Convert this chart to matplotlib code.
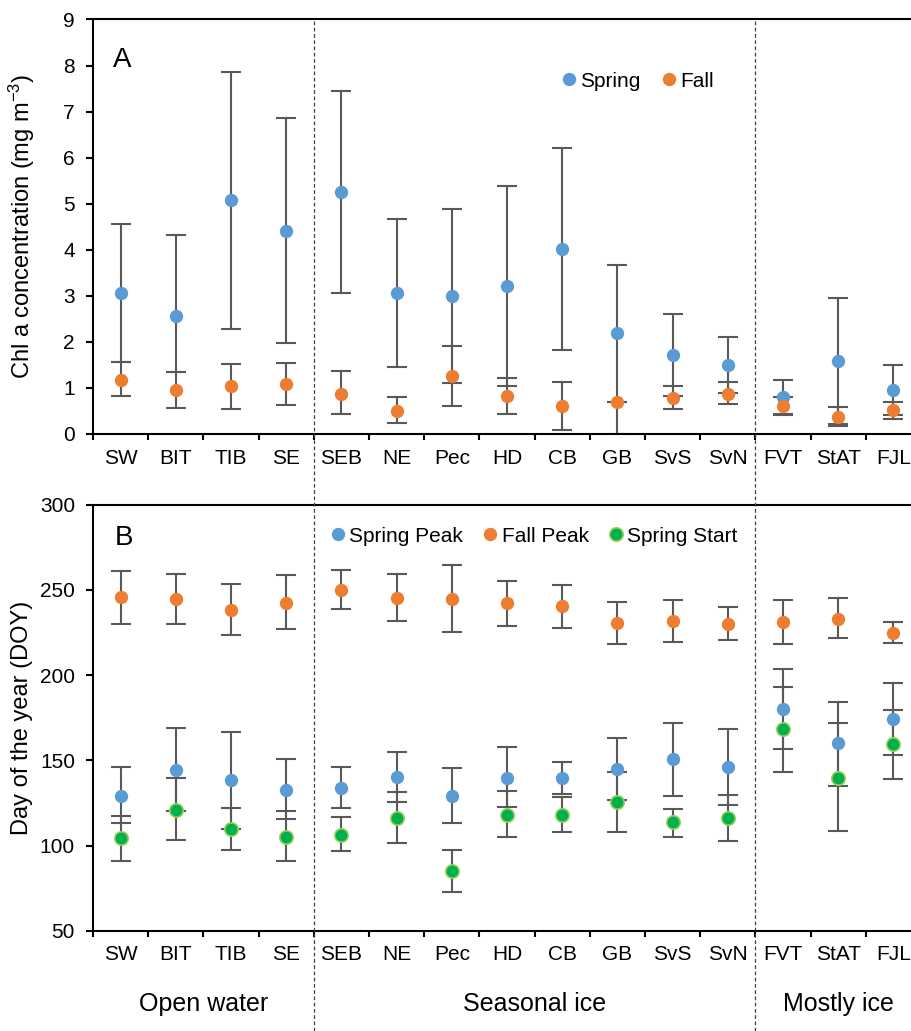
import matplotlib
matplotlib.use("Agg")
import matplotlib.pyplot as plt
import matplotlib.transforms as mtransforms
from matplotlib.lines import Line2D
import numpy as np

plt.rcParams['font.family'] = ['Liberation Sans', 'DejaVu Sans']
plt.rcParams['mathtext.default'] = 'regular'

sites = ["SW", "BIT", "TIB", "SE", "SEB", "NE", "Pec", "HD", "CB", "GB",
         "SvS", "SvN", "FVT", "StAT", "FJL"]
groups = ["Open water", "Seasonal ice", "Mostly ice"]
group_sizes = [4, 8, 3]

# Chl a concentration (mg m-3): mean with lower / upper error limits
chl_spring = [3.07, 2.57, 5.07, 4.41, 5.25, 3.06, 3.00, 3.22, 4.02, 2.20, 1.72, 1.49, 0.81, 1.59, 0.95]
chl_spring_lo = [1.56, 1.34, 2.29, 1.98, 3.07, 1.45, 1.11, 1.05, 1.82, 0.00, 0.83, 0.88, 0.44, 0.21, 0.41]
chl_spring_hi = [4.57, 4.32, 7.85, 6.87, 7.44, 4.67, 4.89, 5.38, 6.21, 3.68, 2.61, 2.10, 1.18, 2.96, 1.49]
chl_fall = [1.17, 0.955, 1.04, 1.085, 0.875, 0.51, 1.27, 0.83, 0.61, 0.695, 0.79, 0.875, 0.61, 0.376, 0.515]
chl_fall_lo = [0.82, 0.565, 0.54, 0.63, 0.43, 0.245, 0.615, 0.43, 0.087, 0.695, 0.54, 0.65, 0.405, 0.166, 0.32]
chl_fall_hi = [1.56, 1.34, 1.52, 1.54, 1.37, 0.81, 1.90, 1.22, 1.13, 0.695, 1.04, 1.135, 0.81, 0.586, 0.70]

# bloom timing (day of year): mean with lower / upper error limits
doy_peak = [129.1, 144.4, 138.2, 132.6, 133.9, 140.1, 129.1, 139.5, 139.5, 145.0, 150.6, 146.2, 180.0, 160.1, 174.5]
doy_peak_lo = [113.1, 120.5, 110.0, 115.5, 122.3, 125.6, 113.3, 122.4, 130.0, 127.0, 129.1, 123.8, 156.8, 134.7, 153.3]
doy_peak_hi = [145.8, 168.7, 166.6, 150.6, 146.2, 155.1, 145.6, 157.6, 149.2, 162.9, 171.8, 168.5, 203.3, 184.4, 195.5]
doy_fall = [246.0, 244.6, 238.4, 242.1, 249.9, 245.2, 244.6, 242.3, 240.4, 230.5, 231.8, 229.9, 231.2, 233.0, 224.4]
doy_fall_lo = [229.9, 229.9, 223.3, 226.8, 238.6, 231.8, 225.0, 228.9, 227.7, 218.4, 219.4, 220.6, 218.4, 221.5, 218.8]
doy_fall_hi = [261.3, 259.4, 253.2, 258.6, 261.9, 259.4, 264.6, 255.1, 252.8, 242.7, 244.1, 239.8, 244.1, 245.4, 231.2]
doy_start = [104.4, 121.1, 109.8, 104.8, 106.3, 116.2, 85.0, 117.9, 117.9, 125.4, 113.9, 116.2, 168.3, 139.7, 159.4]
doy_start_lo = [91.2, 103.0, 97.4, 91.2, 96.6, 101.5, 72.7, 105.0, 107.7, 107.9, 105.0, 102.8, 143.4, 108.7, 139.0]
doy_start_hi = [117.6, 139.6, 122.3, 120.1, 116.8, 131.2, 97.2, 132.0, 128.3, 143.0, 121.7, 129.8, 193.0, 171.8, 179.8]

BLUE = '#5B9BD5'
ORANGE = '#ED7D31'
GREEN = '#00B050'
GREEN_EDGE = '#92D050'
BAR = '#595959'

x = np.arange(len(sites))

fig = plt.figure(figsize=(9.12, 10.31), dpi=100)
axA = fig.add_axes([0.10197, 0.57905, 0.90789, 0.40204])
axB = fig.add_axes([0.10197, 0.09719, 0.90789, 0.41338])


def series(ax, mean, lo, hi, color, label, edge=None, ew=0.0):
    mean = np.asarray(mean)
    err = [mean - np.asarray(lo), np.asarray(hi) - mean]
    ax.errorbar(x, mean, yerr=err, fmt='none', ecolor=BAR, elinewidth=1.5,
                capsize=7.0, capthick=1.5, zorder=2)
    ax.plot(x, mean, 'o', ls='none', ms=9.6, color=color,
            mec=edge if edge else color, mew=ew, label=label, zorder=3)


def style(ax, ymin, ymax, ystep):
    ax.set_xlim(-0.5, len(sites) - 0.5)
    ax.set_ylim(ymin, ymax)
    ax.set_yticks(np.arange(ymin, ymax + 1, ystep))
    ax.set_xticks(np.arange(-0.5, len(sites)), labels=[])
    ax.set_xticks(x, labels=sites, minor=True)
    ax.tick_params(axis='x', which='major', direction='out', length=4.5, width=1.5)
    ax.tick_params(axis='x', which='minor', length=0, pad=10.5, labelsize=15)
    ax.tick_params(axis='y', direction='out', length=5, width=1.5, pad=8, labelsize=15)
    for s in ['left', 'bottom', 'top']:
        ax.spines[s].set_linewidth(1.5)
    ax.spines['right'].set_visible(False)


# panel A: Chl a
series(axA, chl_spring, chl_spring_lo, chl_spring_hi, BLUE, 'Spring')
series(axA, chl_fall, chl_fall_lo, chl_fall_hi, ORANGE, 'Fall')
style(axA, 0, 9, 1)
axA.set_ylabel('Chl a concentration (mg m$^{-3}$)', fontsize=17, va='center')
axA.yaxis.set_label_coords(-0.0857, 0.5)
axA.text(0.0245, 0.8861, 'A', transform=axA.transAxes, fontsize=20,
         ha='left', va='baseline')
axA.legend(loc='center left', bbox_to_anchor=(0.5674, 0.8516), ncol=2,
           frameon=False, fontsize=15, handlelength=0.6, handletextpad=0.25,
           columnspacing=1.05, borderpad=0, borderaxespad=0)

# panel B: timing
series(axB, doy_peak, doy_peak_lo, doy_peak_hi, BLUE, 'Spring Peak')
series(axB, doy_fall, doy_fall_lo, doy_fall_hi, ORANGE, 'Fall Peak')
series(axB, doy_start, doy_start_lo, doy_start_hi, GREEN, 'Spring Start',
       edge=GREEN_EDGE, ew=1.2)
style(axB, 50, 300, 50)
axB.set_ylabel('Day of the year (DOY)', fontsize=17, va='center')
axB.yaxis.set_label_coords(-0.0857, 0.5)
axB.text(0.026, 0.9052, 'B', transform=axB.transAxes, fontsize=20,
         ha='left', va='baseline')
axB.legend(loc='center left', bbox_to_anchor=(0.2883, 0.9259), ncol=3,
           frameon=False, fontsize=15, handlelength=0.6, handletextpad=0.25,
           columnspacing=1.0, borderpad=0, borderaxespad=0)

# dashed separators between ice regimes, running through both panels
top = 0.57905 + 0.40204
trans = mtransforms.blended_transform_factory(axB.transData, fig.transFigure)
for xb in np.cumsum(group_sizes)[:-1] - 0.5:
    fig.add_artist(Line2D([xb, xb], [0, top], transform=trans,
                          ls=(0, (3, 2)), lw=0.9, color='#404040'))

# regime names under panel B
starts = np.cumsum([0] + group_sizes[:-1])
for g, s, n in zip(groups, starts, group_sizes):
    fig.text(s + (n - 1) / 2, 0.0191, g, transform=trans, ha='center',
             va='baseline', fontsize=18)

fig.savefig('out.png', dpi=100)
